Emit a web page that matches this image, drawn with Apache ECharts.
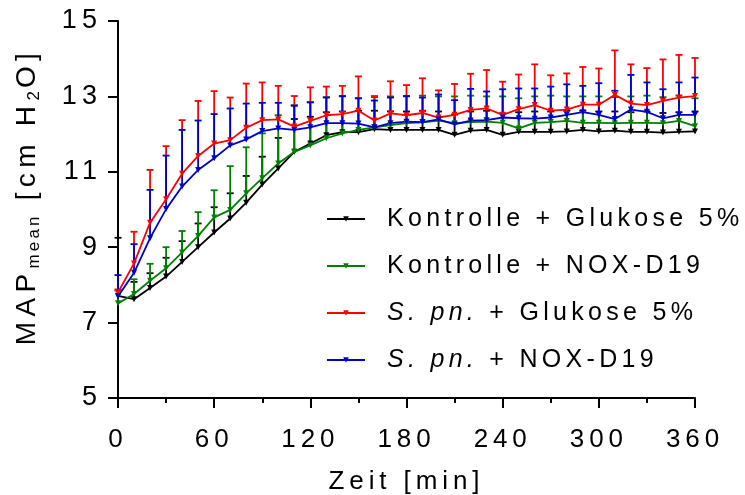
<!DOCTYPE html>
<html>
<head>
<meta charset="utf-8">
<style>
html,body{margin:0;padding:0;background:#fff;}
#chart{width:745px;height:495px;}
</style>
<script src="https://cdn.jsdelivr.net/npm/echarts@6/dist/echarts.min.js"></script>
</head>
<body>
<div id="chart"></div>
<script>
// Letter-spaced text (as in the reference) via canvas letterSpacing
(function(){
  var proto = CanvasRenderingContext2D.prototype;
  if (!('letterSpacing' in proto)) return;
  var d = Object.getOwnPropertyDescriptor(proto, 'font');
  Object.defineProperty(proto, 'font', {
    configurable: true, enumerable: d.enumerable,
    get: function(){ return d.get.call(this); },
    set: function(v){
      d.set.call(this, v);
      var m = /(\d+(?:\.\d+)?)px/.exec(v);
      var size = m ? parseFloat(m[1]) : 0;
      var s = size === 25 ? size * 0.172 : size * 0.19;
      this.letterSpacing = s.toFixed(1) + 'px';
    }
  });
})();

var times = [0,10,20,30,40,50,60,70,80,90,100,110,120,130,140,150,160,170,180,190,200,210,220,230,240,250,260,270,280,290,300,310,320,330,340,350,360];
var xTicks = [0,60,120,180,240,300,360];
var yTicks = [5,7,9,11,13,15];

var seriesNames = ['Kontrolle + Glukose 5%','Kontrolle + NOX-D19','S. pn. + Glukose 5%','S. pn. + NOX-D19'];

var kontrolleGlukose = [7.71,7.62,7.92,8.22,8.61,9.00,9.39,9.76,10.18,10.66,11.09,11.53,11.75,11.97,12.05,12.05,12.13,12.11,12.11,12.11,12.11,11.98,12.09,12.11,11.98,12.06,12.06,12.06,12.07,12.11,12.07,12.09,12.06,12.06,12.04,12.06,12.07];
var kontrolleGlukoseUpper = [9.25,8.08,8.31,8.72,9.16,9.63,10.06,10.43,10.89,11.40,11.90,12.40,12.46,12.58,12.60,12.62,12.62,12.60,12.60,12.62,12.60,12.52,12.60,12.62,12.55,12.58,12.60,12.60,12.62,12.62,12.60,12.60,12.58,12.60,12.56,12.58,12.60];

var kontrolleNox = [7.51,7.76,8.11,8.44,8.86,9.30,9.79,9.99,10.43,10.83,11.22,11.53,11.70,11.89,12.02,12.11,12.18,12.24,12.29,12.31,12.36,12.29,12.32,12.33,12.30,12.15,12.30,12.32,12.35,12.30,12.30,12.29,12.30,12.30,12.29,12.35,12.21];
var kontrolleNoxUpper = [7.85,8.15,8.56,9.00,9.43,9.93,10.51,11.15,11.65,12.02,12.50,12.77,12.85,12.98,13.00,12.95,12.98,13.00,13.00,13.02,13.00,13.00,13.02,13.00,13.00,12.95,13.00,13.02,13.00,13.00,13.00,12.98,13.00,13.02,12.98,13.02,12.95];

var spnGlukose = [7.80,8.57,9.65,10.27,10.95,11.42,11.75,11.84,12.17,12.37,12.39,12.20,12.35,12.50,12.53,12.62,12.36,12.55,12.50,12.56,12.44,12.51,12.64,12.68,12.51,12.66,12.77,12.62,12.65,12.78,12.78,13.04,12.81,12.77,12.88,12.97,13.01];
var spnGlukoseUpper = [7.88,9.41,11.05,11.68,12.37,12.88,13.14,12.97,13.34,13.37,13.28,13.01,13.24,13.26,13.28,13.53,13.01,13.40,13.30,13.48,13.16,13.33,13.60,13.70,13.39,13.58,13.85,13.56,13.61,13.78,13.74,14.22,13.85,13.75,13.98,14.10,14.02];

var spnNox = [7.69,8.32,9.24,10.01,10.61,11.05,11.36,11.70,11.86,12.08,12.15,12.11,12.18,12.29,12.29,12.28,12.18,12.29,12.33,12.32,12.39,12.26,12.36,12.37,12.44,12.42,12.41,12.44,12.51,12.58,12.51,12.40,12.65,12.59,12.42,12.51,12.51];
var spnNoxUpper = [8.26,9.08,10.52,11.43,12.11,12.36,12.53,12.68,12.81,12.83,12.83,12.75,12.84,12.97,13.01,12.95,12.89,12.97,13.01,12.97,13.05,12.90,13.20,13.13,13.19,13.21,13.21,13.26,13.32,13.28,13.35,13.15,13.57,13.37,13.19,13.37,13.50];

var colors = ['#000000','#008000','#ff0000','#0000cc'];
var means = [kontrolleGlukose, kontrolleNox, spnGlukose, spnNox];
var uppers = [kontrolleGlukoseUpper, kontrolleNoxUpper, spnGlukoseUpper, spnNoxUpper];

var FONT = 'Liberation Sans, Arial, sans-serif';

function errRender(color){
  return function(params, api){
    var x = api.value(0), m = api.value(1), u = api.value(2);
    var p0 = api.coord([x, m]);
    var p1 = api.coord([x, u]);
    var hw = 3.5;
    return {
      type: 'group',
      children: [
        {type:'line', shape:{x1:p0[0], y1:p0[1], x2:p1[0], y2:p1[1]}, style:{stroke:color, lineWidth:1.8}},
        {type:'line', shape:{x1:p1[0]-hw, y1:p1[1], x2:p1[0]+hw, y2:p1[1]}, style:{stroke:color, lineWidth:1.8}}
      ]
    };
  };
}

var series = [];
for (var i = 0; i < 4; i++) {
  var errData = times.map(function(t, k){ return [t, means[i][k], uppers[i][k]]; });
  series.push({
    type: 'custom',
    name: 'err' + i,
    renderItem: errRender(colors[i]),
    encode: {x: 0, y: [1, 2]},
    data: errData,
    silent: true
  });
  series.push({
    type: 'line',
    name: seriesNames[i],
    data: times.map(function(t, k){ return [t, means[i][k]]; }),
    color: colors[i],
    symbol: 'triangle',
    symbolRotate: 180,
    symbolSize: 6,
    showAllSymbol: true,
    lineStyle: {width: 1.8, color: colors[i]},
    itemStyle: {color: colors[i]}
  });
}

var chart = echarts.init(document.getElementById('chart'), null, {renderer: 'canvas'});
chart.setOption({
  animation: false,
  backgroundColor: '#fff',
  grid: {left: 118, right: 50, top: 21, bottom: 97, containLabel: false, outerBoundsMode: 'none'},
  legend: {
    data: seriesNames,
    orient: 'vertical',
    left: 321,
    top: 199,
    itemWidth: 38,
    itemHeight: 7,
    itemGap: 17,
    selectedMode: false,
    formatter: function(name){
      if (name.indexOf('S. pn.') === 0) return '{it|S. pn.}' + name.slice(6);
      return name;
    },
    textStyle: {
      fontFamily: FONT, fontSize: 25, color: '#000', lineHeight: 30, padding: [0,0,0,17],
      rich: {it: {fontFamily: FONT, fontSize: 25, fontStyle: 'italic', color: '#000', lineHeight: 30}}
    }
  },
  xAxis: {
    type: 'value',
    min: 0, max: 360, interval: 60,
    name: 'Zeit [min]',
    nameLocation: 'middle',
    nameGap: 68,
    nameTextStyle: {fontFamily: FONT, fontSize: 26, color: '#000'},
    axisLine: {show: true, onZero: false, lineStyle: {color: '#000', width: 2}},
    axisTick: {show: true, length: 10, lineStyle: {color: '#000', width: 2}},
    minorTick: {show: true, splitNumber: 2, length: 5, lineStyle: {color: '#000', width: 2}},
    axisLabel: {fontFamily: FONT, fontSize: 26, color: '#000', margin: 26,
      formatter: function(v){ return xTicks.indexOf(v) >= 0 ? String(v) : ''; }},
    splitLine: {show: false}
  },
  yAxis: {
    type: 'value',
    min: 5, max: 15, interval: 2,
    name: 'MAP{sub|mean} [cm H{sub|2}O]',
    nameLocation: 'middle',
    nameGap: 74,
    nameRotate: 90,
    nameTextStyle: {
      fontFamily: FONT, fontSize: 28, color: '#000', lineHeight: 34, padding: [0,0,0,26],
      rich: {sub: {fontFamily: FONT, fontSize: 17, color: '#000', lineHeight: 17, verticalAlign: 'bottom'}}
    },
    axisLine: {show: true, onZero: false, lineStyle: {color: '#000', width: 2}},
    axisTick: {show: true, length: 10, lineStyle: {color: '#000', width: 2}},
    axisLabel: {fontFamily: FONT, fontSize: 27, color: '#000', margin: 16,
      formatter: function(v){ return yTicks.indexOf(v) >= 0 ? String(v) : ''; }},
    splitLine: {show: false}
  },
  series: series
});
</script>
</body>
</html>
